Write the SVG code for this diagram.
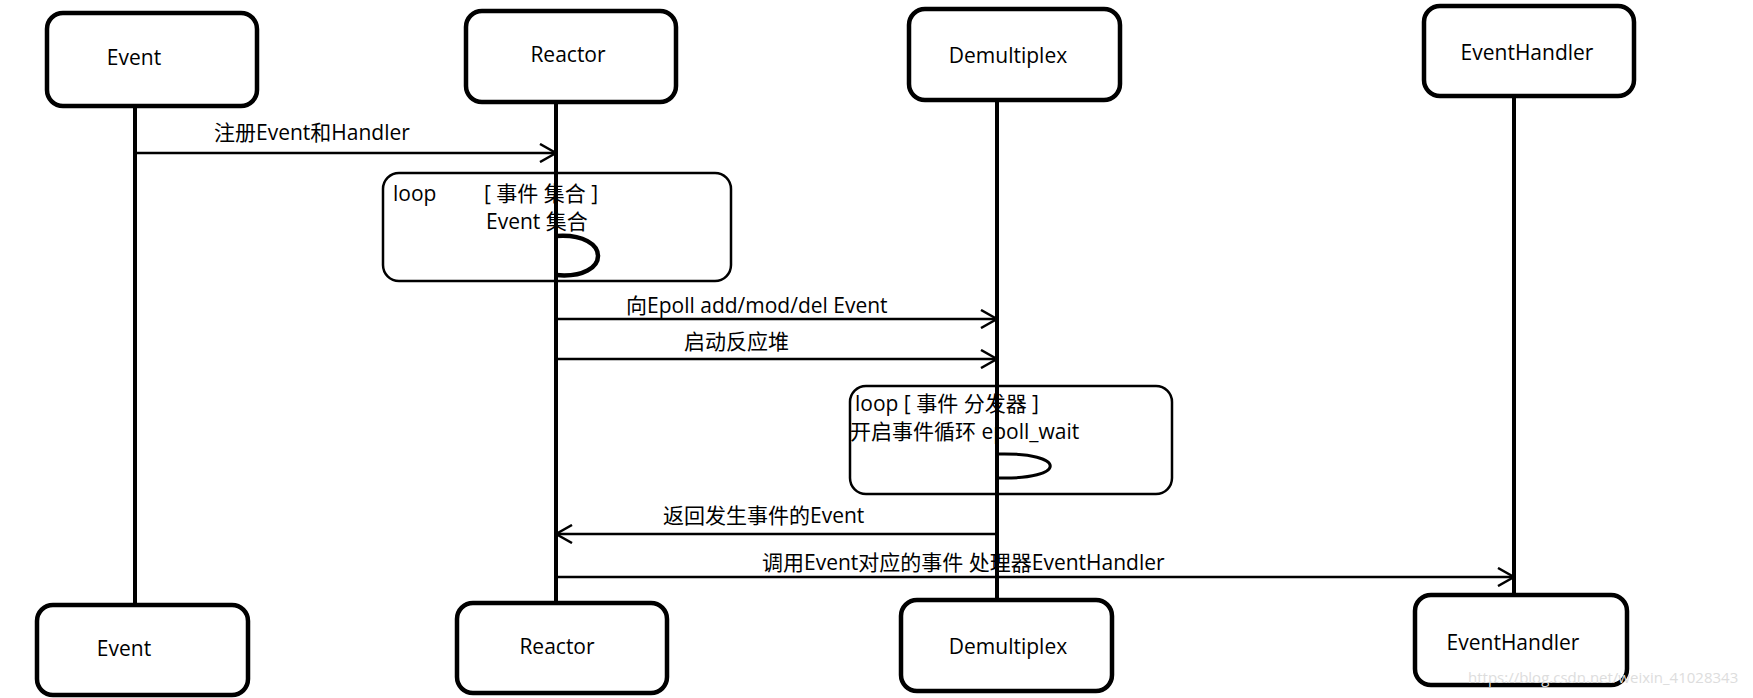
<svg xmlns="http://www.w3.org/2000/svg" width="1753" height="698" viewBox="0 0 1753 698">
<style>
.box{fill:#fff;stroke:#000;stroke-width:4.5}
.ll{stroke:#000;stroke-width:4;fill:none}
.msg{stroke:#000;stroke-width:2.5;fill:none}
.frame{fill:none;stroke:#000;stroke-width:2.5}
text{font-family:"Open Sans","Noto Sans CJK SC","Liberation Sans",sans-serif;font-size:21px;fill:#000}
.t{text-anchor:middle}
</style>
<defs>
<marker id="ah" markerWidth="20" markerHeight="20" refX="18" refY="10" orient="auto" markerUnits="userSpaceOnUse">
<path d="M2,1 L18,10 L2,19" fill="none" stroke="#000" stroke-width="2.5"/>
</marker>
</defs>
<g id="lifelines">
<line class="ll" x1="135" y1="106" x2="135" y2="605"/>
<line class="ll" x1="556" y1="102" x2="556" y2="603"/>
<line class="ll" x1="997" y1="100" x2="997" y2="600"/>
<line class="ll" x1="1514" y1="96" x2="1514" y2="595"/>
</g>
<g id="event-top"><rect class="box" x="47" y="13" width="210" height="93" rx="16"/><text class="t" x="134" y="65">Event</text></g>
<g id="reactor-top"><rect class="box" x="466" y="11" width="210" height="91" rx="16"/><text class="t" x="568" y="62">Reactor</text></g>
<g id="demux-top"><rect class="box" x="909" y="9" width="211" height="91" rx="16"/><text class="t" x="1008" y="63">Demultiplex</text></g>
<g id="eh-top"><rect class="box" x="1424" y="6" width="210" height="90" rx="16"/><text class="t" x="1527" y="60">EventHandler</text></g>
<g id="event-bottom"><rect class="box" x="37" y="605" width="211" height="90" rx="16"/><text class="t" x="124" y="656">Event</text></g>
<g id="reactor-bottom"><rect class="box" x="457" y="603" width="210" height="90" rx="16"/><text class="t" x="557" y="654">Reactor</text></g>
<g id="demux-bottom"><rect class="box" x="901" y="600" width="211" height="91" rx="16"/><text class="t" x="1008" y="654">Demultiplex</text></g>
<g id="eh-bottom"><rect class="box" x="1415" y="595" width="212" height="90" rx="16"/><text class="t" x="1513" y="650">EventHandler</text></g>
<g id="loop1">
<rect class="frame" x="383" y="173" width="348" height="108" rx="16"/>
<text x="393" y="201">loop</text>
<text x="484" y="201">[ 事件   集合 ]</text>
<text x="486" y="229">Event  集合</text>
</g>
<g id="loop2">
<rect class="frame" x="850" y="386" width="322" height="108" rx="16"/>
<text x="855" y="411">loop   [ 事件  分发器 ]</text>
<text x="850" y="439">开启事件循环  epoll_wait</text>
</g>
<g id="connectors">
<line class="msg" x1="135" y1="153" x2="556" y2="153" marker-end="url(#ah)"/>
<path d="M556,236 C612,232 612,280 556,275" stroke="#000" stroke-width="4.5" fill="none"/>
<line class="msg" x1="556" y1="319" x2="997" y2="319" marker-end="url(#ah)"/>
<line class="msg" x1="556" y1="359" x2="997" y2="359" marker-end="url(#ah)"/>
<path d="M997,454 C1068,452 1068,480 997,478" stroke="#000" stroke-width="3" fill="none"/>
<line class="msg" x1="997" y1="534" x2="556" y2="534" marker-end="url(#ah)"/>
<line class="msg" x1="556" y1="577" x2="1514" y2="577" marker-end="url(#ah)"/>
</g>
<g id="labels">
<text x="214" y="140">注册Event和Handler</text>
<text x="626" y="313">向Epoll   add/mod/del  Event</text>
<text x="684" y="349">启动反应堆</text>
<text x="663" y="523">返回发生事件的Event</text>
<text x="762" y="570">调用Event对应的事件 处理器EventHandler</text>
</g>
<text x="1468" y="683" style="font-size:15px;fill:#ddd">https://blog.csdn.net/weixin_41028343</text>
</svg>
